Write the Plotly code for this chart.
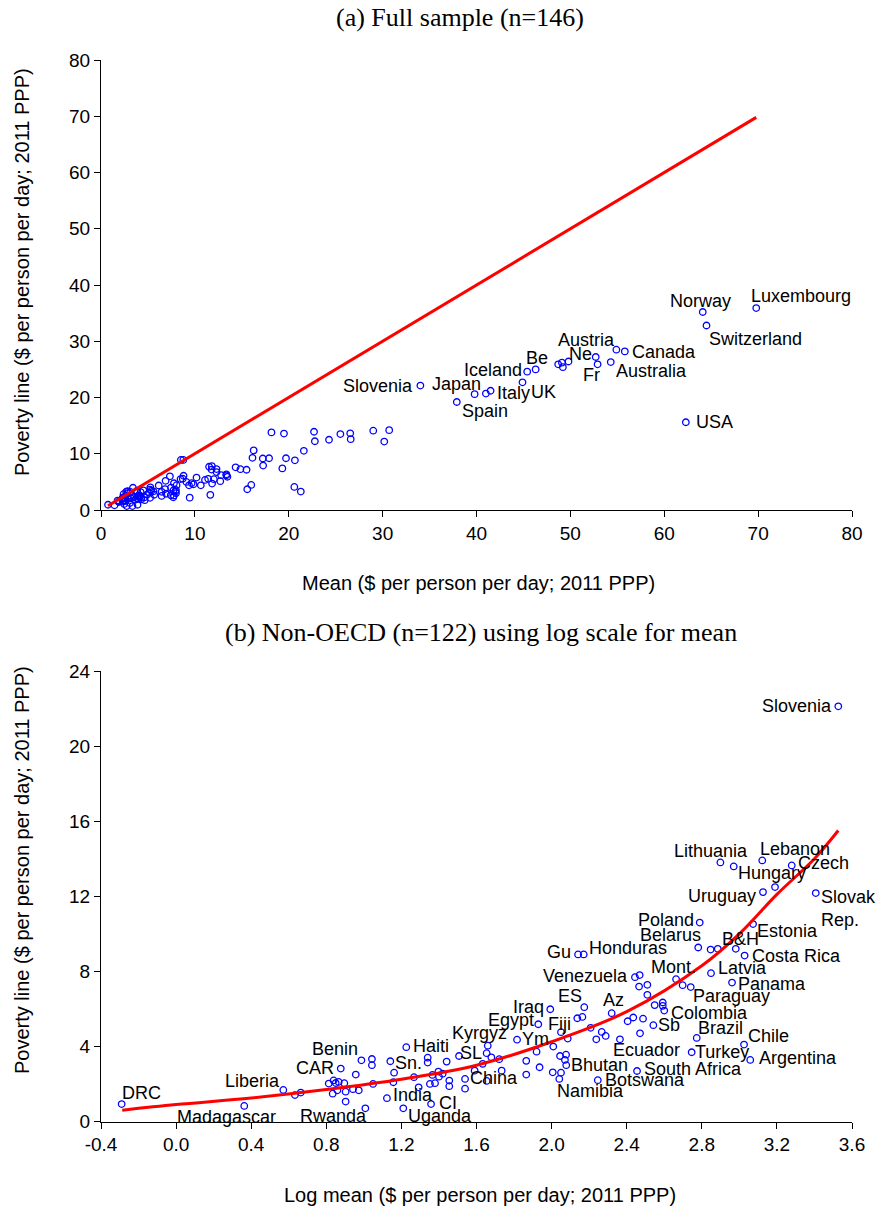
import numpy as np
import plotly.graph_objects as go

# ---------------- Non-OECD countries (n=122) ----------------
# log mean consumption/income ($/day, 2011 PPP) and national poverty line
log_mean_b = [
    -0.290, 0.363, 0.571, 0.633, 0.664, 0.813, 0.839, 0.866, 0.896, 0.877,
    0.834, 0.859, 0.903, 0.903, 0.942, 0.973, 0.957, 0.987, 1.043, 1.043,
    1.049, 1.008, 1.123, 1.141, 1.161, 1.157, 1.226, 1.210, 1.267, 1.292,
    1.340, 1.340, 1.365, 1.397, 1.400, 1.352, 1.379, 1.358, 1.455, 1.455,
    1.441, 1.507, 1.539, 1.539, 1.590, 1.633, 1.660, 1.654, 1.679, 1.654,
    1.721, 1.734, 1.816, 1.865, 1.865, 1.929, 1.936, 1.920, 2.009, 2.006,
    2.045, 2.077, 2.071, 2.078, 2.050, 2.041, 1.993, 2.050, 2.086, 2.137,
    2.164, 2.174, 2.141, 2.171, 2.208, 2.238, 2.267, 2.288, 2.246, 2.320,
    2.364, 2.405, 2.435, 2.487, 2.471, 2.455, 2.444, 2.469, 2.466, 2.510,
    2.510, 2.542, 2.549, 2.592, 2.592, 2.600, 2.663, 2.698, 2.741, 2.746,
    2.773, 2.781, 2.789, 2.847, 2.885, 2.849, 2.961, 2.981, 3.028, 3.073,
    3.025, 3.058, 3.126, 3.190, 3.407, 2.899, 2.970, 3.122, 3.279, 3.527,
    0.850, 1.420,
]
poverty_b = [
    0.93, 0.83, 1.68, 1.41, 1.54, 2.02, 2.19, 2.11, 2.04, 2.82,
    1.48, 1.66, 1.59, 1.06, 1.72, 1.66, 2.50, 3.26, 3.33, 3.00,
    2.00, 0.70, 1.24, 3.21, 2.60, 2.09, 3.96, 0.70, 2.36, 1.82,
    3.40, 3.14, 2.48, 2.66, 2.39, 2.00, 2.04, 0.93, 2.18, 1.88,
    3.19, 3.49, 2.27, 1.75, 2.71, 3.07, 4.04, 3.64, 3.42, 2.16,
    3.32, 2.71, 4.36, 3.23, 2.50, 5.18, 2.89, 3.72, 3.99, 2.62,
    3.49, 3.56, 3.28, 3.00, 2.60, 2.27, 5.98, 4.76, 4.42, 5.50,
    5.57, 6.09, 8.90, 8.90, 4.99, 4.38, 4.77, 4.56, 2.20, 5.77,
    4.38, 5.34, 5.54, 5.48, 4.70, 2.69, 7.69, 7.80, 7.19, 7.28,
    6.75, 5.13, 6.20, 6.34, 6.16, 5.91, 7.58, 7.26, 7.16, 3.69,
    4.45, 9.27, 10.60, 9.16, 9.20, 7.90, 7.40, 9.20, 8.84, 10.52,
    4.10, 3.28, 12.22, 12.49, 12.17, 13.80, 13.59, 13.91, 13.64, 22.12,
    2.05, 2.55,
]
names_b = [
    "DRC", "Madagascar", "Liberia", "", "", "", "", "", "", "CAR",
    "", "", "", "Rwanda", "", "", "", "Benin", "", "",
    "", "", "", "Sn.", "", "", "Haiti", "Uganda", "", "India",
    "", "", "", "", "", "", "", "CI", "", "",
    "", "", "China", "", "", "", "Kyrgyz", "SL", "", "",
    "", "", "Ym", "", "", "Egypt", "", "", "", "",
    "", "", "", "Bhutan", "", "Namibia", "Iraq", "Fiji", "", "",
    "", "ES", "Gu", "Honduras", "", "", "", "", "Botswana", "Az",
    "Ecuador", "", "", "", "", "South Africa", "Venezuela", "", "", "",
    "", "Sb", "", "", "", "Colombia", "Mont.", "", "Paraguay", "Turkey",
    "Brazil", "Belarus", "Poland", "", "", "Latvia", "Panama", "B&H", "Costa Rica", "Estonia",
    "Chile", "Argentina", "Uruguay", "", "Slovak<br>Rep.", "Lithuania", "Hungary", "Lebanon", "Czech", "Slovenia",
    "", "",
]

# ---------------- OECD countries (remaining 24 of the full sample) ----------------
mean_oecd = [69.8, 64.1, 64.5, 62.3, 55.8, 54.9, 54.3, 52.9, 52.7, 49.8,
             49.1, 48.7, 49.2, 46.3, 45.4, 44.9, 41.5, 41.0, 39.8, 37.9,
             25.5, 26.6, 29.0, 30.7]
poverty_oecd = [35.9, 35.2, 32.8, 15.6, 28.2, 28.5, 26.3, 25.9, 27.2, 26.4,
                26.2, 25.9, 25.4, 25.0, 24.6, 22.7, 21.2, 20.7, 20.6, 19.2,
                13.5, 12.6, 14.1, 14.2]
names_oecd = ["Luxembourg", "Norway", "Switzerland", "USA", "Canada", "Austria",
              "Australia", "Fr", "", "Ne", "", "", "", "Be", "Iceland", "UK",
              "Italy", "", "Japan", "Spain", "", "", "", ""]

# fitted curve of poverty line on log mean (non-OECD)
fit_log = [-0.287, 0.0, 0.4, 0.8, 1.2, 1.6, 2.0, 2.4, 2.8, 3.0, 3.2, 3.4, 3.527]
fit_line = [0.60, 0.90, 1.25, 1.70, 2.25, 3.00, 4.25, 5.85, 8.30, 10.0, 12.1, 14.0, 15.5]

# tick labels
ticks_a = [0, 10, 20, 30, 40, 50, 60, 70, 80]
ticks_bx = [-0.4, 0.0, 0.4, 0.8, 1.2, 1.6, 2.0, 2.4, 2.8, 3.2, 3.6]
ticks_bx_text = ["-0.4", "0.0", "0.4", "0.8", "1.2", "1.6", "2.0", "2.4", "2.8", "3.2", "3.6"]
ticks_by = [0, 4, 8, 12, 16, 20, 24]

# label placement: (xanchor, x shift px, y shift px)
label_pos_a = {
    "Luxembourg": ("left", -7, 12), "Norway": ("center", -2, 11),
    "Switzerland": ("left", 1, -14), "Austria": ("right", 1, 10),
    "Canada": ("left", 5, -1), "Ne": ("left", -2, 7), "Be": ("center", 1, 11),
    "Iceland": ("right", -3, 2), "Fr": ("center", -6, -11),
    "Australia": ("left", 3, -9), "Slovenia": ("right", -5, 0),
    "Japan": ("right", 8, 10), "Italy": ("left", 4, -2), "UK": ("left", 6, -10),
    "Spain": ("left", 3, -9), "USA": ("left", 8, 0),
}
label_pos_b = {
    "DRC": ("left", -2, 11), "Madagascar": ("center", -18, -11),
    "Liberia": ("right", -1, 9), "CAR": ("right", -5, 1), "Benin": ("right", -1, 11),
    "Rwanda": ("center", -12, -14), "Sn.": ("left", 3, -2), "Haiti": ("left", 5, 1),
    "India": ("center", -6, -8), "Uganda": ("left", 3, -8), "CI": ("left", 6, 1),
    "Kyrgyz": ("center", -8, 13), "SL": ("right", -3, 0), "China": ("left", 3, 1),
    "Egypt": ("right", -2, 4), "Ym": ("left", 3, 1), "Iraq": ("right", -4, 2),
    "Fiji": ("center", -1, 8), "ES": ("right", 0, 11), "Gu": ("right", -5, 2),
    "Honduras": ("left", 3, 6), "Venezuela": ("right", -5, 1), "Az": ("center", 2, 13),
    "Bhutan": ("left", 3, 0), "Namibia": ("left", -4, -12), "Ecuador": ("left", -9, -11),
    "Botswana": ("left", 5, 0), "South Africa": ("left", 5, 2), "Sb": ("left", 3, 0),
    "Colombia": ("left", 5, -2), "Mont.": ("center", -3, 12), "Paraguay": ("left", 0, -9),
    "Brazil": ("left", -1, 10), "Turkey": ("left", 1, 0), "Chile": ("left", 2, 9),
    "Argentina": ("left", 7, 2), "Poland": ("right", -4, 3), "Belarus": ("right", 5, 12),
    "B&H": ("center", 5, 10), "Estonia": ("left", 2, -7), "Costa Rica": ("left", 5, 0),
    "Latvia": ("left", 5, 5), "Panama": ("left", 4, -1), "Uruguay": ("right", -5, -4),
    "Slovak<br>Rep.": ("left", 3, -15), "Lithuania": ("center", -9, 11),
    "Hungary": ("left", 2, -7), "Lebanon": ("left", -4, 11), "Czech": ("left", 4, 2),
    "Slovenia": ("right", -4, 0),
}

W, H = 877, 1213
SANS = "Liberation Sans, Arial, sans-serif"
SERIF = "Liberation Serif, Times New Roman, serif"
BLUE = "#0000FF"
RED = "#FF0000"

mean_b = np.exp(np.array(log_mean_b))
mean_a = np.concatenate([mean_b, np.array(mean_oecd)])
pov_a = np.concatenate([np.array(poverty_b), np.array(poverty_oecd)])

marker = dict(symbol="circle-open", size=6.5, color=BLUE, line=dict(width=1.3, color=BLUE))

fig = go.Figure()
fig.add_trace(go.Scatter(x=mean_a, y=pov_a, mode="markers", marker=marker,
                         xaxis="x", yaxis="y", cliponaxis=False, hoverinfo="skip"))
lo, hi = float(mean_a.min()), float(mean_a.max())
fig.add_trace(go.Scatter(x=[lo, hi], y=[lo, hi], mode="lines",
                         line=dict(color=RED, width=3), xaxis="x", yaxis="y"))
fig.add_trace(go.Scatter(x=log_mean_b, y=poverty_b, mode="markers", marker=marker,
                         xaxis="x2", yaxis="y2", cliponaxis=False, hoverinfo="skip"))
fig.add_trace(go.Scatter(x=fit_log, y=fit_line, mode="lines", line=dict(color=RED, width=3, shape="spline"),
                         xaxis="x2", yaxis="y2"))

annotations = []
label_font = dict(family=SANS, size=18, color="black")


def add_label(text, x, y, pos, xref, yref):
    anchor, dx, dy = pos
    annotations.append(dict(text=text, x=x, y=y, xref=xref, yref=yref, showarrow=False,
                            xanchor=anchor, yanchor="middle", xshift=dx, yshift=dy,
                            font=label_font, align="left"))


for name, x, y in zip(names_oecd, mean_oecd, poverty_oecd):
    if name:
        add_label(name, x, y, label_pos_a[name], "x", "y")
for name, x, y in zip(names_b, mean_b, poverty_b):
    if name in ("Slovenia",):
        add_label(name, float(x), y, label_pos_a[name], "x", "y")
for name, x, y in zip(names_b, log_mean_b, poverty_b):
    if name:
        add_label(name, x, y, label_pos_b[name], "x2", "y2")


# panel titles and axis titles
def paper_text(text, px, py, font, angle=0):
    annotations.append(dict(text=text, x=px / W, y=1 - py / H, xref="paper", yref="paper",
                            showarrow=False, xanchor="center", yanchor="middle",
                            textangle=angle, font=font))


paper_text("(a) Full sample (n=146)", 460, 17, dict(family=SERIF, size=26, color="black"))
paper_text("(b) Non-OECD (n=122) using log scale for mean", 481, 632, dict(family=SERIF, size=26, color="black"))
paper_text("Mean ($ per person per day; 2011 PPP)", 478, 583, dict(family=SANS, size=20, color="black"))
paper_text("Log mean ($ per person per day; 2011 PPP)", 480, 1195, dict(family=SANS, size=20, color="black"))
paper_text("Poverty line ($ per person per day; 2011 PPP)", 22, 272, dict(family=SANS, size=20, color="black"), -90)
paper_text("Poverty line ($ per person per day; 2011 PPP)", 22, 870, dict(family=SANS, size=20, color="black"), -90)

axis_common = dict(showline=True, linecolor="black", linewidth=1, ticks="outside", ticklen=6,
                   tickwidth=1, tickcolor="black", showgrid=False, zeroline=False,
                   tickfont=dict(family=SANS, size=19, color="black"), automargin=False)

xdom = [101 / W, 852 / W]
fig.update_layout(
    width=W, height=H, margin=dict(l=0, r=0, t=0, b=0),
    paper_bgcolor="white", plot_bgcolor="white", showlegend=False,
    xaxis=dict(domain=xdom, range=[0, 80], tickvals=ticks_a, anchor="y", **axis_common),
    yaxis=dict(domain=[1 - 510 / H, 1 - 60 / H], range=[0, 80], tickvals=ticks_a, anchor="x", **axis_common),
    xaxis2=dict(domain=xdom, range=[-0.4, 3.6], tickvals=ticks_bx, ticktext=ticks_bx_text,
                anchor="y2", **axis_common),
    yaxis2=dict(domain=[1 - 1121.5 / H, 1 - 671 / H], range=[0, 24], tickvals=ticks_by, anchor="x2", **axis_common),
    annotations=annotations,
)

fig.write_html("out.html")
